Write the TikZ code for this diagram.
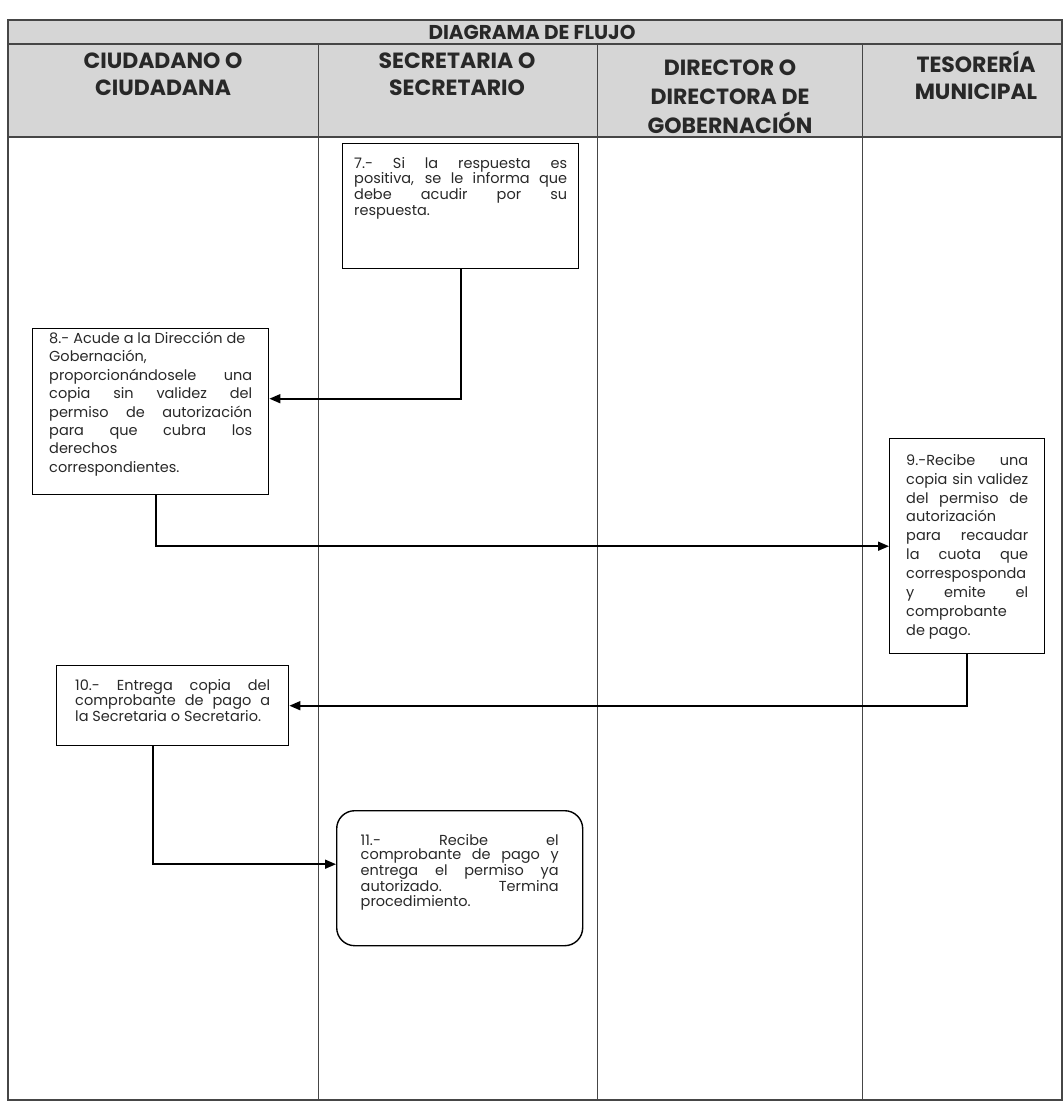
\documentclass[tikz,border=0pt]{standalone}
\usepackage{fontspec}
\setmainfont{Poppins}
\usetikzlibrary{arrows.meta,positioning}
\definecolor{hdr}{RGB}{214,214,214}
\definecolor{lin}{RGB}{70,70,70}
\definecolor{txt}{RGB}{40,40,40}
\hyphenpenalty=10000
\exhyphenpenalty=10000

\begin{document}
\begin{tikzpicture}[x=1pt,y=-1pt,
    paso/.style={rectangle,draw=black,line width=1.4pt,align=justify,text=txt,inner xsep=3pt,inner ysep=2pt,anchor=north west,
      font=\fontsize{14.5}{14.5}\selectfont},
    fin/.style={paso,rounded corners=18pt},
    enc/.style={font=\fontsize{22}{27}\selectfont\bfseries,align=center,text=txt,anchor=north},
    arr/.style={-{Triangle[length=11pt,width=9pt]},line width=1.6pt},
]
\useasboundingbox (0,0) rectangle (1063,1103);

% Encabezado
\fill[hdr] (8,20) rectangle (1062,137);
\draw[lin,line width=1.2pt] (8,20) rectangle (1062,1100);
\draw[lin,line width=1.2pt] (8,44) -- (1062,44);
\draw[lin,line width=1.2pt] (8,137) -- (1062,137);
\draw[lin,line width=1pt] (318,44) -- (318,1100);
\draw[lin,line width=1pt] (597,44) -- (597,1100);
\draw[lin,line width=1pt] (862,44) -- (862,1100);

\node[enc,font=\fontsize{20}{24}\selectfont\bfseries,anchor=center] (titulo) at (532,32) {DIAGRAMA DE FLUJO};
\node[enc] (ciudadano) at (163,49) {CIUDADANO O\\CIUDADANA};
\node[enc] (secretaria) at (457,49) {SECRETARIA O\\SECRETARIO};
\node[enc,font=\fontsize{22}{29}\selectfont\bfseries] (director) at (730,56) {DIRECTOR O\\DIRECTORA DE\\GOBERNACIÓN};
\node[enc] (tesoreria) at (976,47) {TESORERÍA\\MUNICIPAL};

% Pasos
\node[paso,font=\fontsize{14.5}{15.7}\selectfont,minimum width=236pt,minimum height=125pt,text width=213pt,text depth=87pt] (p7) at (342,143)
  {7.- Si la respuesta es\linebreak positiva, se le informa que\linebreak debe acudir por su\linebreak respuesta.};
\node[paso,font=\fontsize{14.5}{18.4}\selectfont,minimum width=236pt,minimum height=166pt,text width=203pt,text depth=148pt] (p8) at (32,328)
  {8.- Acude a la Dirección de\newline Gobernación,\newline proporcionándosele una\linebreak copia sin validez del\linebreak permiso de autorización\linebreak para que cubra los\linebreak derechos\newline correspondientes.};
\node[paso,font=\fontsize{14.5}{18.9}\selectfont,minimum width=155pt,minimum height=215pt,text width=122pt,text depth=173pt] (p9) at (889,438)
  {9.-Recibe una\linebreak copia sin validez\linebreak del permiso de\linebreak autorización\newline para recaudar\linebreak la cuota que\linebreak corresposponda\linebreak y emite el\linebreak comprobante\newline de pago.};
\node[paso,font=\fontsize{14.5}{14.2}\selectfont,minimum width=232pt,minimum height=80pt,text width=195pt,text depth=42pt] (p10) at (56,665)
  {10.- Entrega copia del\linebreak comprobante de pago a\linebreak la Secretaria o Secretario.};
\node[fin,minimum width=246pt,minimum height=135pt,text width=198pt,text depth=77pt] (p11) at (336,810)
  {11.- Recibe el\linebreak comprobante de pago y\linebreak entrega el permiso ya\linebreak autorizado. Termina\linebreak procedimiento.};

% Flechas
\draw[arr] (p7.south) |- ([yshift=13pt]p8.east);
\draw[arr] ([xshift=5pt]p8.south) |- (p9.west);
\draw[arr] (p9.south) |- (p10.east);
\draw[arr] ([xshift=-20pt]p10.south) |- ([yshift=14pt]p11.west);
\end{tikzpicture}
\end{document}
